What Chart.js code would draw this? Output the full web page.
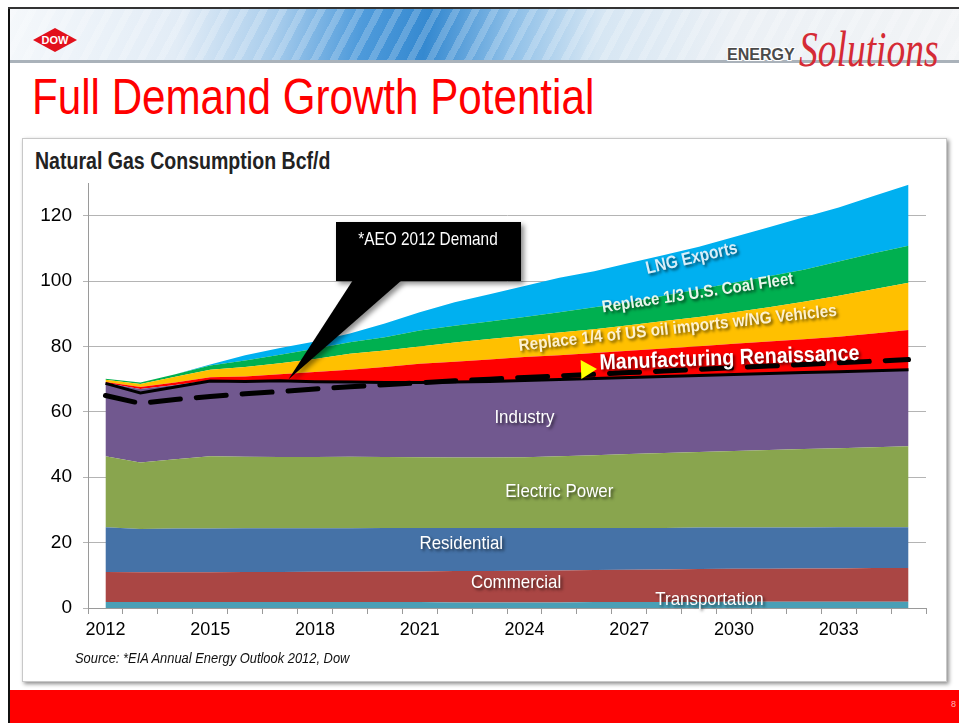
<!DOCTYPE html>
<html>
<head>
<meta charset="utf-8">
<script src="https://cdn.jsdelivr.net/npm/chart.js@4.4.1/dist/chart.umd.min.js"></script>
<style>
  html, body { margin: 0; padding: 0; background: #fff; }
  body { width: 959px; height: 723px; position: relative; overflow: hidden; font-family: "Liberation Sans", Arial, sans-serif; }
  .narrow { font-family: "Liberation Sans Narrow", "Arial Narrow", "Liberation Sans", sans-serif; transform-origin: 0 0; white-space: nowrap; }
  #frameLeft { position: absolute; left: 8px; top: 7px; width: 2px; height: 716px; background: #111; }
  #frameTop { position: absolute; left: 8px; top: 7px; width: 951px; height: 2px; background: #333; }
  #banner {
    position: absolute; left: 10px; top: 9px; width: 949px; height: 51px;
    background:
      repeating-linear-gradient(118deg, rgba(255,255,255,0.2) 0 7px, rgba(255,255,255,0) 7px 17px),
      linear-gradient(100deg, #f5f8fb 0%, #e2ecf6 18%, #a9cdec 28%, #4f9bdb 37%, #3589d0 44%, #8fc0e8 53%, #d6e6f3 62%, #ebf0f5 76%, #f2f4f6 100%);
    border-bottom: 3px solid #aab2ba;
  }
  #dow {
    position: absolute; left: 33px; top: 28px; width: 44px; height: 24px;
    background: #e2101c; clip-path: polygon(50% 0, 100% 50%, 50% 100%, 0 50%);
    color: #fff; font-weight: bold; font-size: 11px; text-align: center; line-height: 24px;
  }
  #energy { position: absolute; left: 727px; top: 47px; font-size: 16px; line-height: 16px; font-weight: bold; color: #4a4a4a;
    text-shadow: 1px 1px 0 #fff, -1px -1px 0 #fff, 1px -1px 0 #fff, -1px 1px 0 #fff; }
  #solutions { position: absolute; left: 799px; top: 24px; font-family: "Liberation Serif", serif; font-style: italic; font-size: 50px; line-height: 50px;
    color: #d52b35; transform: scaleX(0.75); transform-origin: 0 0; white-space: nowrap; }
  #title { position: absolute; left: 32px; top: 68px; font-size: 50px; color: #ff0000; transform: scaleX(0.843); }
  #panel { position: absolute; left: 22px; top: 138px; width: 923px; height: 542px; background: #fff;
    border: 1px solid #c8c8c8; box-shadow: 2px 2px 4px rgba(0,0,0,0.45); }
  #chartTitle { position: absolute; left: 35px; top: 148px; font-size: 23px; font-weight: bold; color: #222; transform: scaleX(0.85); }
  #source { position: absolute; left: 75px; top: 649px; font-size: 15px; font-style: italic; color: #111; transform: scaleX(0.86); }
  #wrap { position: absolute; left: 22px; top: 140px; width: 924px; height: 540px; }
  #footer { position: absolute; left: 10px; top: 690px; width: 949px; height: 33px; background: #ff0000; }
  #page { position: absolute; right: 3px; top: 699px; font-size: 9px; color: #ffb4b4; }
</style>
</head>
<body>
<div id="frameLeft"></div>
<div id="frameTop"></div>
<div id="banner"></div>
<div id="dow">DOW</div>
<div id="energy">ENERGY</div>
<div id="solutions">Solutions</div>
<div id="title" class="narrow">Full Demand Growth Potential</div>
<div id="panel"></div>
<div id="chartTitle" class="narrow">Natural Gas Consumption Bcf/d</div>
<div id="wrap"><canvas id="gasChart" width="924" height="540"></canvas></div>
<div id="source" class="narrow">Source: *EIA Annual Energy Outlook 2012, Dow</div>
<div id="footer"></div>
<div id="page">8</div>
<script>
"use strict";

// years on the x axis
var years = ['2012','2013','2014','2015','2016','2017','2018','2019','2020','2021','2022','2023',
             '2024','2025','2026','2027','2028','2029','2030','2031','2032','2033','2034','2035'];
var yTicks = [0, 20, 40, 60, 80, 100, 120];

// stacked layers, Bcf/d (bottom to top)
var transportation = [1.8,1.8,1.8,1.8,1.8,1.8,1.8,1.8,1.8,1.8,1.7,1.7,1.7,1.7,1.8,1.8,1.8,1.8,1.9,1.9,1.9,1.9,1.9,1.9];
var commercial     = [9.2,9.1,9.1,9.1,9.2,9.2,9.3,9.3,9.4,9.4,9.6,9.6,9.7,9.8,9.8,9.9,10.0,10.1,10.1,10.1,10.2,10.2,10.3,10.3];
var residential    = [13.7,13.3,13.4,13.4,13.4,13.4,13.3,13.3,13.3,13.3,13.2,13.2,13.1,13.0,12.9,12.8,12.7,12.7,12.6,12.6,12.5,12.6,12.5,12.5];
var electricPower  = [21.7,20.3,21.2,22.1,21.9,21.8,21.8,21.9,21.7,21.6,21.5,21.5,21.6,21.9,22.2,22.6,22.9,23.1,23.4,23.7,24.0,24.2,24.5,24.8];
var industry       = [22.4,22.5,22.7,23.2,23.2,23.3,23.1,22.8,22.8,22.9,23.1,23.3,23.5,23.5,23.5,23.4,23.4,23.4,23.4,23.4,23.4,23.4,23.4,23.5];
var manufacturing  = [0.3,0.6,0.8,1.0,1.3,2.0,2.9,3.8,4.7,5.7,6.2,6.7,7.2,7.4,7.8,8.2,8.6,9.0,9.4,9.8,10.2,10.7,11.4,12.0];
var ngVehicles     = [0.7,0.9,1.7,2.3,2.9,3.4,4.0,4.9,5.1,5.3,5.9,6.3,6.5,7.0,7.3,7.8,8.4,8.9,9.7,10.5,11.5,12.5,13.5,14.5];
var coalFleet      = [0.3,0.5,0.8,1.3,2.0,2.6,3.1,3.5,4.0,4.9,5.1,5.3,5.7,6.2,6.7,7.0,7.7,8.5,9.0,9.5,9.8,10.5,11.0,11.3];
var lngExports     = [0,0,0,0.3,1.6,2.0,2.2,2.7,4.2,5.6,7.2,8.4,9.5,10.5,11.0,12.0,12.5,13.0,14.0,15.0,16.0,16.5,17.5,18.7];

// total demand lines
var aeoDemand   = [65.0,62.6,63.8,64.7,65.5,66.2,67.0,67.7,68.3,68.9,69.5,70.0,70.5,71.0,71.5,72.0,72.5,73.0,73.5,74.0,74.5,75.0,75.5,76.0];
var baseDemand  = [68.7,65.8,67.6,69.4,69.3,69.5,69.2,69.1,69.0,69.0,69.1,69.3,69.6,69.9,70.2,70.5,70.8,71.1,71.4,71.7,72.0,72.3,72.6,72.9];

var NARROW = '"Liberation Sans Narrow", "Arial Narrow", "Liberation Sans", sans-serif';

var layers = [
    { label: 'Transportation', data: transportation, color: '#4a9fb6' },
    { label: 'Commercial', data: commercial, color: '#aa4644' },
    { label: 'Residential', data: residential, color: '#4572a7' },
    { label: 'Electric Power', data: electricPower, color: '#89a54e' },
    { label: 'Industry', data: industry, color: '#71588f' },
    { label: 'Manufacturing Renaissance', data: manufacturing, color: '#ff0000' },
    { label: 'Replace 1/4 of US oil imports w/NG Vehicles', data: ngVehicles, color: '#ffc000' },
    { label: 'Replace 1/3 U.S. Coal Fleet', data: coalFleet, color: '#00b050' },
    { label: 'LNG Exports', data: lngExports, color: '#00b0f0' }
];

var datasets = layers.map(function (l, i) {
    return {
        label: l.label,
        data: l.data,
        backgroundColor: l.color,
        borderColor: l.color,
        borderWidth: 0,
        pointRadius: 0,
        tension: 0,
        fill: i === 0 ? 'origin' : '-1',
        stack: 'demand',
        order: 1
    };
});
datasets.push({
    label: 'AEO 2012 Demand', data: aeoDemand, borderColor: '#000', borderWidth: 5,
    borderDash: [30, 16], borderCapStyle: 'round', pointRadius: 0, fill: false, stack: 'aeo', order: 0
});
datasets.push({
    label: 'Base Demand', data: baseDemand, borderColor: '#000', borderWidth: 3,
    pointRadius: 0, fill: false, stack: 'base', order: 0
});

// labels written on the areas: [category index, value]
var areaLabels = [
    { text: 'Industry', at: [12, 58.3], font: '19px ' + NARROW, sx: 0.89, color: '#fff', angle: 0 },
    { text: 'Electric Power', at: [13, 35.7], font: '19px ' + NARROW, sx: 0.89, color: '#fff', angle: 0 },
    { text: 'Residential', at: [10.19, 19.8], font: '19px ' + NARROW, sx: 0.89, color: '#fff', angle: 0 },
    { text: 'Commercial', at: [11.76, 7.6], font: '19px ' + NARROW, sx: 0.89, color: '#fff', angle: 0 },
    { text: 'Transportation', at: [17.3, 2.5], font: '19px ' + NARROW, sx: 0.89, color: '#fff', angle: 0 },
    { text: 'LNG Exports', at: [16.79, 106.9], font: 'bold 18px ' + NARROW, sx: 0.85, color: '#d8eef9', angle: -13 },
    { text: 'Replace 1/3 U.S. Coal Fleet', at: [16.96, 96.2], font: 'bold 17px ' + NARROW, sx: 0.89, color: '#e9f6ec', angle: -8.5 },
    { text: 'Replace 1/4 of US oil imports w/NG Vehicles', at: [16.39, 85.5], font: 'bold 17px ' + NARROW, sx: 0.9, color: '#fdf1cf', angle: -6.3 },
    { text: 'Manufacturing Renaissance', at: [17.87, 76.3], font: 'bold 22px ' + NARROW, sx: 0.89, color: '#fff', angle: -2.1, arrow: true }
];

var labelPlugin = {
    id: 'areaLabels',
    afterDatasetsDraw: function (chart) {
        var ctx = chart.ctx, x = chart.scales.x, y = chart.scales.y;
        areaLabels.forEach(function (l) {
            ctx.save();
            ctx.translate(x.getPixelForValue(l.at[0]), y.getPixelForValue(l.at[1]));
            ctx.rotate(l.angle * Math.PI / 180);
            ctx.scale(l.sx, 1);
            ctx.font = l.font;
            ctx.textAlign = 'center';
            ctx.textBaseline = 'middle';
            ctx.shadowColor = 'rgba(0,0,0,0.6)';
            ctx.shadowBlur = 3;
            ctx.shadowOffsetX = 2;
            ctx.shadowOffsetY = 2;
            ctx.fillStyle = l.color;
            ctx.fillText(l.text, 0, 0);
            if (l.arrow) {
                var w = ctx.measureText(l.text).width;
                var left = -w / 2 - 3;
                ctx.shadowColor = 'transparent';
                ctx.fillStyle = '#ffff00';
                ctx.beginPath();
                ctx.moveTo(left - 18, -4);
                ctx.lineTo(left - 18, 15);
                ctx.lineTo(left, 5.5);
                ctx.closePath();
                ctx.fill();
            }
            ctx.restore();
        });
    },
    afterDraw: function (chart) {
        // "*AEO 2012 Demand" callout pointing at the demand line
        var ctx = chart.ctx, x = chart.scales.x, y = chart.scales.y;
        var tipX = x.getPixelForValue(5.24), tipY = y.getPixelForValue(69.9);
        ctx.save();
        ctx.shadowColor = 'rgba(0,0,0,0.45)';
        ctx.shadowBlur = 5;
        ctx.shadowOffsetX = 3;
        ctx.shadowOffsetY = 3;
        ctx.fillStyle = '#000';
        ctx.fillRect(314, 82, 185, 59);
        ctx.beginPath();
        ctx.moveTo(331, 140);
        ctx.lineTo(380, 140);
        ctx.lineTo(tipX, tipY);
        ctx.closePath();
        ctx.fill();
        ctx.shadowColor = 'transparent';
        ctx.fillStyle = '#fff';
        ctx.translate(406, 100);
        ctx.scale(0.81, 1);
        ctx.font = '19px ' + NARROW;
        ctx.textAlign = 'center';
        ctx.textBaseline = 'middle';
        ctx.fillText('*AEO 2012 Demand', 0, 0);
        ctx.restore();
    }
};

var ctx = document.getElementById('gasChart').getContext('2d');
var gasChart = new Chart(ctx, {
    type: 'line',
    data: { labels: years, datasets: datasets },
    plugins: [labelPlugin],
    options: {
        responsive: false,
        animation: false,
        devicePixelRatio: 1,
        layout: { padding: { top: 43, left: 0, right: 20, bottom: 32 } },
        plugins: { legend: { display: false }, tooltip: { enabled: false }, title: { display: false } },
        scales: {
            x: {
                type: 'category',
                offset: true,
                afterFit: function (s) { s.height = 40; },
                grid: { offset: true, drawOnChartArea: false, tickLength: 6, color: '#9a9a9a' },
                border: { color: '#9a9a9a' },
                ticks: {
                    autoSkip: false, maxRotation: 0, padding: 5,
                    color: '#000', font: { family: 'Liberation Sans', size: 18 },
                    callback: function (v, i) { return i % 3 === 0 ? years[i] : ''; }
                }
            },
            y: {
                stacked: true,
                min: 0,
                max: 130,
                afterFit: function (s) { s.width = 66; },
                afterBuildTicks: function (s) { s.ticks = yTicks.map(function (v) { return { value: v }; }); },
                grid: { color: '#b4b4b4', tickLength: 5 },
                border: { color: '#9a9a9a' },
                ticks: { padding: 11, color: '#000', font: { family: 'Liberation Sans', size: 19 } }
            }
        }
    }
});
</script>
</body>
</html>
